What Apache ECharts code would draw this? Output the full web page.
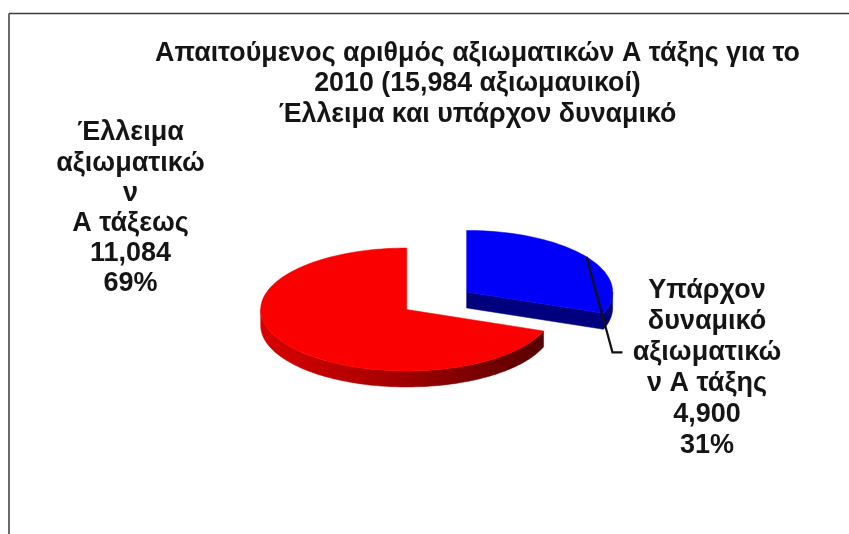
<!DOCTYPE html>
<html>
<head>
<meta charset="utf-8">
<style>html,body{margin:0;padding:0;background:#fff}#chart{width:849px;height:534px}</style>
<script src="https://cdn.jsdelivr.net/npm/echarts@6/dist/echarts.min.js"></script>
</head>
<body>
<div id="chart"></div>
<script>
// Officer counts: existing strength, then shortfall
const categories = ['Υπάρχον δυναμικό αξιωματικών Α τάξης', 'Έλλειμα αξιωματικών Α τάξεως'];
const values = [4900, 11084];
const valueLabels = ['4,900', '11,084'];
const percentLabels = ['31%', '69%'];
const nameLines = [
  ['Υπάρχον', 'δυναμικό', 'αξιωματικώ', 'ν Α τάξης'],
  ['Έλλειμα', 'αξιωματικώ', 'ν', 'Α τάξεως']
];
const titleLines = [
  'Απαιτούμενος αριθμός αξιωματικών Α τάξης για το',
  '2010 (15,984 αξιωμαυικοί)',
  'Έλλειμα και υπάρχον δυναμικό'
];

// Tilted pie geometry
const CX = 406.7, CY = 309.5, RX = 146, RY = 61.5, DEPTH = 16, EXPLODE = 0.5;
const FONT = '"Liberation Sans", Arial, sans-serif';
const TEXT_COLOR = '#151515';
const total = values.reduce((a, b) => a + b, 0);

function pt(cx, cy, deg, dy) {
  const r = deg * Math.PI / 180;
  return [cx + RX * Math.sin(r), cy - RY * Math.cos(r) + (dy || 0)];
}
function arc(cx, cy, from, to, dy) {
  const pts = [];
  const n = Math.max(2, Math.ceil(Math.abs(to - from) / 2));
  for (let i = 0; i <= n; i++) pts.push(pt(cx, cy, from + (to - from) * i / n, dy));
  return pts;
}
function poly(points, fill) {
  return { type: 'polygon', shape: { points }, style: { fill, stroke: fill, lineWidth: 0.5 } };
}
function textBlock(lines, x, y, lineHeight) {
  return lines.map((t, i) => ({
    type: 'text', z2: 5,
    style: { text: t, x, y: y + i * lineHeight, textAlign: 'center', textVerticalAlign: 'middle',
             font: 'bold 27px ' + FONT, fill: TEXT_COLOR }
  }));
}

function renderSlice(params, api) {
  const i = params.dataIndex;
  const before = values.slice(0, i).reduce((a, b) => a + b, 0);
  const from = before / total * 360;
  const to = (before + api.value(0)) / total * 360;
  const mid = (from + to) / 2;
  const children = [];
  const block = [api.value(1), api.value(2)];

  if (i === 0) {
    // Exploded slice: the cut face and rim are visible below the top surface
    const r = mid * Math.PI / 180;
    const cx = CX + EXPLODE * RX * Math.sin(r);
    const cy = CY - EXPLODE * RY * Math.cos(r);
    const rim = arc(cx, cy, 90, to);
    const rimLow = arc(cx, cy, to, 90, DEPTH);
    children.push(poly(rim.concat([[cx, cy], [cx, cy + DEPTH]], rimLow), '#00007e'));
    children.push(poly([[cx, cy]].concat(arc(cx, cy, from, to)), '#0000fa'));
    // Leader running from the arc midpoint to the label
    const a = pt(cx, cy, mid);
    children.push({
      type: 'polyline', z2: 4,
      shape: { points: [a, [a[0] + 26, a[1] + 95.5], [a[0] + 36, a[1] + 95.5]] },
      style: { fill: 'none', stroke: '#111', lineWidth: 2.2 }
    });
    children.push(...textBlock(nameLines[i].concat(valueLabels[i], percentLabels[i]), block[0], block[1], 31));
  } else {
    const side = arc(CX, CY, from, 270).concat(arc(CX, CY, 270, from, DEPTH));
    children.push(poly(side, new echarts.graphic.LinearGradient(0, 0, 1, 0, [
      { offset: 0, color: '#d80000' },
      { offset: 0.45, color: '#a80000' },
      { offset: 1, color: '#560000' }
    ])));
    children.push(poly([[CX, CY]].concat(arc(CX, CY, from, to)), '#fb0000'));
    children.push(...textBlock(nameLines[i].concat(valueLabels[i], percentLabels[i]), block[0], block[1], 30.2));
  }
  return { type: 'group', children };
}

const chart = echarts.init(document.getElementById('chart'), null, { renderer: 'canvas' });
chart.setOption({
  animation: false,
  backgroundColor: '#fff',
  title: {
    text: titleLines.join('\n'),
    left: 472.5, top: 33, textAlign: 'center',
    textStyle: { fontFamily: FONT, fontWeight: 'bold', fontSize: 26.8, lineHeight: 30.5, color: TEXT_COLOR }
  },
  graphic: [
    { type: 'line', shape: { x1: 9, y1: 13.5, x2: 849, y2: 13.5 }, style: { stroke: '#3a3a3a', lineWidth: 1.5 } },
    { type: 'line', shape: { x1: 9, y1: 13.5, x2: 9, y2: 534 }, style: { stroke: '#3a3a3a', lineWidth: 1.5 } }
  ],
  series: [{
    type: 'custom',
    coordinateSystem: 'none',
    renderItem: renderSlice,
    silent: true,
    data: [
      { name: categories[0], value: [values[0], 707, 291] },
      { name: categories[1], value: [values[1], 130.5, 133] }
    ]
  }]
});
</script>
</body>
</html>
